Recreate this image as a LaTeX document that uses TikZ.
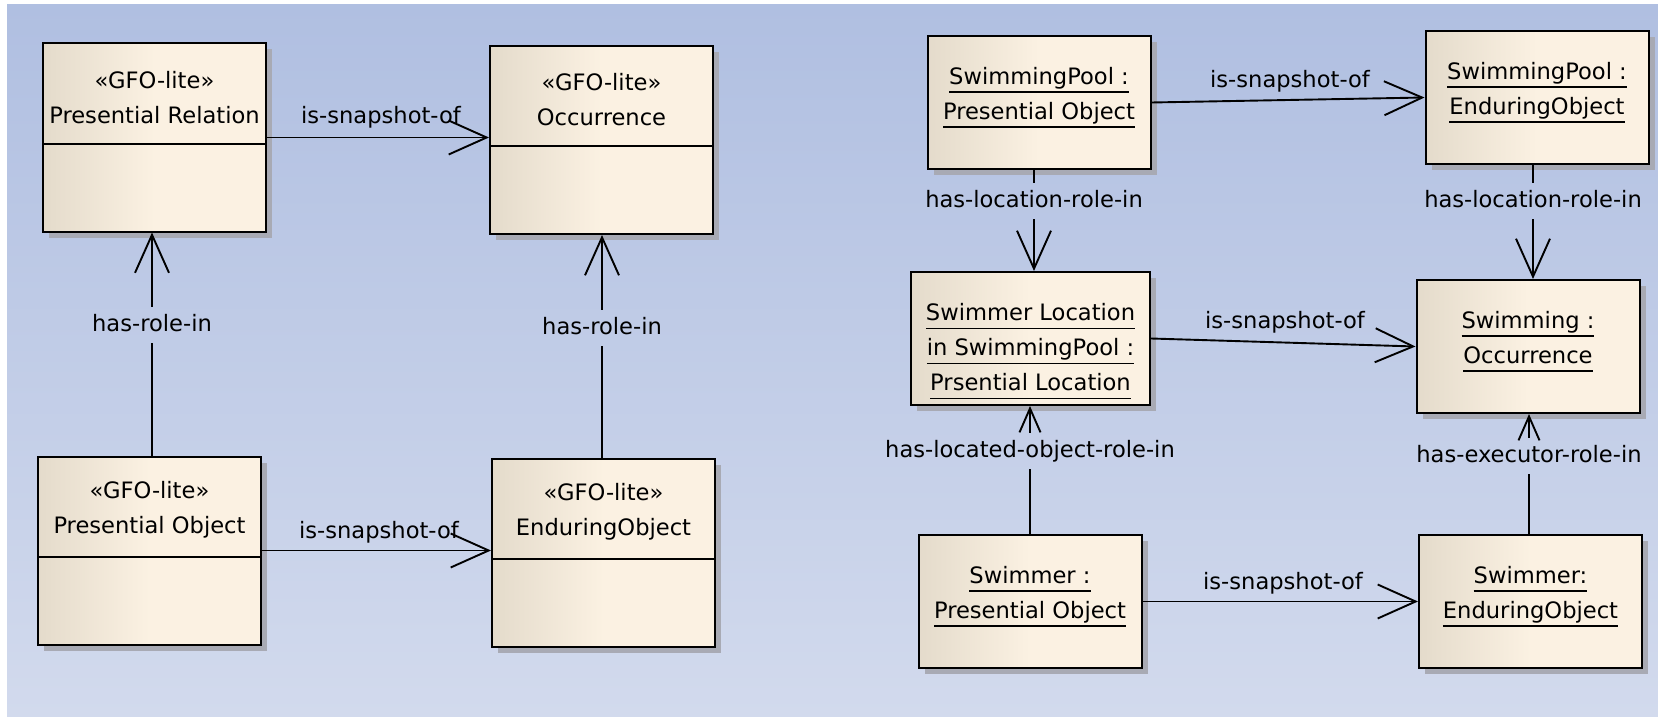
\documentclass[tikz,border=0pt]{standalone}
\usepackage{fontspec}
\setmainfont{DejaVu Sans}
\usetikzlibrary{arrows.meta,positioning,shadows}

\definecolor{bgtop}{RGB}{176,191,225}
\definecolor{bgbottom}{RGB}{210,218,237}
\definecolor{boxleft}{RGB}{228,219,203}
\definecolor{boxright}{RGB}{251,241,226}
\definecolor{shadowgray}{RGB}{168,170,180}

\newcommand\objname[1]{\setbox0=\hbox{#1}\leavevmode\rlap{\copy0}\raisebox{-8.5pt}{\rule{\wd0}{1.8pt}}}

\begin{document}
\begin{tikzpicture}[x=1pt, y=-1pt,
    font=\fontsize{22.6}{35}\selectfont,
    box/.style={draw=black, line width=2pt, left color=boxleft, right color=boxright, middle color=boxright,
        drop shadow={shadow xshift=6pt, shadow yshift=-6pt, fill=shadowgray, opacity=1},
        minimum width=223pt, inner sep=0pt},
    classbox/.style={box, minimum height=188pt},
    classname/.style={minimum width=223pt, minimum height=93pt, inner sep=0pt, align=center},
    objbox/.style={box, minimum height=133pt},
    objtext/.style={inner sep=0pt, align=center},
    rel/.style={line width=1.9pt, draw=black},
    arr/.style={rel, -{Straight Barb[length=38pt, width=34pt]}},
    cutarr/.style={rel, -{Straight Barb[length=24pt, width=21pt]}},
    lbl/.style={inner sep=7pt, text height=17pt, text depth=5pt}]

    \useasboundingbox (0,0) rectangle (1658,717);
    \shade[top color=bgtop, bottom color=bgbottom] (7,5) rectangle (1658,717);

    \node[classbox] (pr) at (154.5,137.5) {};
    \node[classname, below=8pt of pr.north] (pr-name) {«GFO-lite»\\Presential Relation};
    \draw[line width=2pt] (pr-name.south -| pr.west) -- (pr-name.south -| pr.east);

    \node[classbox] (occ) at (601.5,140) {};
    \node[classname, below=8pt of occ.north] (occ-name) {«GFO-lite»\\Occurrence};
    \draw[line width=2pt] (occ-name.south -| occ.west) -- (occ-name.south -| occ.east);

    \node[classbox] (po) at (149.5,550.5) {};
    \node[classname, below=8pt of po.north] (po-name) {«GFO-lite»\\Presential Object};
    \draw[line width=2pt] (po-name.south -| po.west) -- (po-name.south -| po.east);

    \node[classbox] (eo) at (603.5,552.5) {};
    \node[classname, below=8pt of eo.north] (eo-name) {«GFO-lite»\\EnduringObject};
    \draw[line width=2pt] (eo-name.south -| eo.west) -- (eo-name.south -| eo.east);

    \node[lbl] (pr-occ) at (381,118) {is-snapshot-of};
    \draw[arr] (pr.east) -- (pr.east -| occ.west);
    \node[lbl] (po-eo) at (379,532) {is-snapshot-of};
    \draw[arr] (po.east) -- (po.east -| eo.west);

    \node[lbl] (po-pr) at (152,325) {has-role-in};
    \draw[rel] (po.north -| po-pr) -- (po-pr.south);
    \draw[arr] (po-pr.north) -- (po-pr.north |- pr.south);
    \node[lbl] (eo-occ) at (602,328) {has-role-in};
    \draw[rel] (eo.north -| eo-occ) -- (eo-occ.south);
    \draw[arr] (eo-occ.north) -- (eo-occ.north |- occ.south);

    \node[objbox] (sppo) at (1039,102.5) {};
    \node[objtext, yshift=5pt] (sppo-name) at (sppo.center) {\objname{SwimmingPool :}\\\objname{Presential Object}};
    \node[objbox] (speo) at (1537,97.5) {};
    \node[objtext, yshift=5pt] (speo-name) at (speo.center) {\objname{SwimmingPool :}\\\objname{EnduringObject}};
    \node[objbox, minimum width=239pt] (swloc) at (1030.5,338.5) {};
    \node[objtext, yshift=-13pt] (swloc-name) at (swloc.center) {\objname{Swimmer Location}\\\objname{in SwimmingPool :}\\\objname{Prsential Location}};
    \node[objbox] (swocc) at (1528,346.5) {};
    \node[objtext, yshift=5pt] (swocc-name) at (swocc.center) {\objname{Swimming :}\\\objname{Occurrence}};
    \node[objbox] (swpo) at (1030,601.5) {};
    \node[objtext, yshift=5pt] (swpo-name) at (swpo.center) {\objname{Swimmer :}\\\objname{Presential Object}};
    \node[objbox] (sweo) at (1530.5,601.5) {};
    \node[objtext, yshift=5pt] (sweo-name) at (sweo.center) {\objname{Swimmer:}\\\objname{EnduringObject}};

    \node[lbl] (sppo-speo) at (1290,82) {is-snapshot-of};
    \draw[arr] (sppo.east) -- (speo.west);
    \node[lbl] (swloc-swocc) at (1285,322) {is-snapshot-of};
    \draw[arr] (swloc.east) -- (swocc.west);
    \node[lbl] (swpo-sweo) at (1283,583) {is-snapshot-of};
    \draw[arr] (swpo.east) -- (sweo.west);

    \node[lbl] (sppo-swloc) at (1034,201) {has-location-role-in};
    \draw[rel] (sppo.south -| sppo-swloc) -- (sppo-swloc.north);
    \draw[arr] (sppo-swloc.south) -- (sppo-swloc.south |- swloc.north);
    \node[lbl] (speo-swocc) at (1533,201) {has-location-role-in};
    \draw[rel] (speo.south -| speo-swocc) -- (speo-swocc.north);
    \draw[arr] (speo-swocc.south) -- (speo-swocc.south |- swocc.north);

    \node[lbl] (swpo-swloc) at (1030,451) {has-located-object-role-in};
    \draw[rel] (swpo.north -| swpo-swloc) -- (swpo-swloc.south);
    \draw[cutarr] (swpo-swloc.north) -- (swpo-swloc.north |- swloc.south);
    \node[lbl] (sweo-swocc) at (1529,456) {has-executor-role-in};
    \draw[rel] (sweo.north -| sweo-swocc) -- (sweo-swocc.south);
    \draw[cutarr] (sweo-swocc.north) -- (sweo-swocc.north |- swocc.south);
\end{tikzpicture}
\end{document}
